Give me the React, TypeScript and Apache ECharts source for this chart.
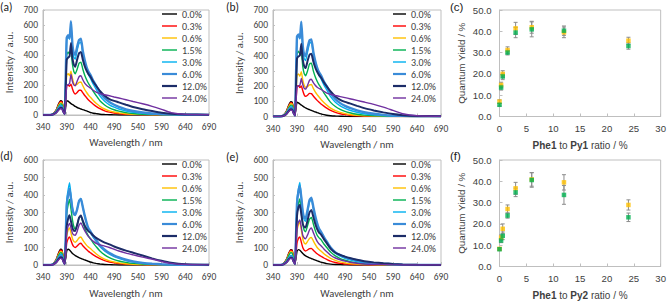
import React, { useEffect, useRef } from "react";
import * as echarts from "echarts";

// Emission wavelengths (nm) shared by all spectra
const wavelengths = [
  340, 355, 362, 368, 373, 377, 380, 383, 386, 388,
  390, 393, 396, 399, 402, 405, 408, 412, 416, 420,
  424, 428, 432, 436, 440, 446, 452, 460, 470, 480,
  490, 500, 515, 530, 550, 570, 590, 610, 640, 690,
];

const dopingLabels = ["0.0%", "0.3%", "0.6%", "1.5%", "3.0%", "6.0%", "12.0%", "24.0%"];
const lineColors = ["#000000", "#ff0000", "#ffc000", "#00b050", "#00b0f0", "#3a8bd8", "#1c2c68", "#7030a0"];
const lineWidths = [1.4, 1.4, 1.4, 1.4, 1.4, 2.4, 2, 1.4];

// (a) Phe1 / Py1
const intensityA = [
  [0, 0, 10, 35, 75, 96, 92, 44, 12, 55, 95, 92, 84, 76, 70, 64, 57, 50, 45, 40, 36, 31, 27, 22, 17, 12, 9, 5, 3, 2, 1, 0, 0, 0, 0, 0, 0, 0, 0, 0],
  [0, 0, 9, 32, 70, 90, 86, 41, 11, 100, 195, 200, 192, 205, 175, 150, 140, 150, 165, 165, 148, 130, 115, 100, 88, 72, 58, 42, 28, 19, 13, 9, 5, 3, 2, 1, 0, 0, 0, 0],
  [0, 0, 8, 30, 64, 82, 79, 38, 10, 140, 265, 275, 262, 292, 245, 210, 200, 205, 218, 220, 195, 170, 150, 132, 118, 96, 78, 58, 40, 28, 20, 14, 8, 5, 3, 2, 1, 0, 0, 0],
  [0, 0, 7, 27, 58, 74, 71, 34, 9, 200, 400, 420, 405, 432, 340, 290, 275, 305, 345, 352, 305, 265, 235, 210, 190, 158, 130, 95, 67, 48, 35, 26, 16, 10, 5, 3, 2, 1, 0, 0],
  [0, 0, 6, 23, 50, 64, 61, 29, 8, 260, 505, 522, 505, 605, 450, 385, 372, 430, 478, 485, 405, 345, 300, 268, 245, 205, 172, 128, 92, 68, 52, 40, 27, 18, 11, 6, 3, 2, 1, 0],
  [0, 0, 6, 20, 44, 56, 54, 26, 7, 270, 515, 532, 512, 625, 470, 410, 402, 455, 500, 508, 425, 365, 318, 288, 268, 228, 195, 150, 112, 86, 68, 54, 38, 27, 17, 10, 6, 4, 2, 1],
  [0, 0, 5, 17, 37, 48, 46, 22, 6, 190, 370, 382, 392, 480, 380, 335, 322, 370, 412, 420, 368, 325, 295, 272, 255, 222, 195, 160, 128, 106, 94, 84, 68, 53, 38, 26, 15, 9, 4, 2],
  [0, 0, 4, 15, 33, 42, 40, 19, 5, 100, 195, 202, 210, 272, 225, 200, 195, 225, 255, 262, 235, 212, 198, 188, 180, 165, 152, 142, 135, 128, 120, 113, 102, 90, 75, 58, 38, 16, 4, 2],
];

// (b) Phe1 / Py1, second film
const intensityB = [
  [0, 0, 10, 36, 76, 97, 93, 45, 12, 55, 94, 90, 82, 75, 68, 62, 56, 50, 45, 40, 35, 30, 26, 21, 17, 12, 8, 5, 3, 2, 1, 0, 0, 0, 0, 0, 0, 0, 0, 0],
  [0, 0, 9, 33, 71, 91, 87, 42, 11, 100, 198, 202, 190, 200, 170, 142, 132, 140, 152, 150, 135, 120, 106, 94, 82, 68, 55, 40, 27, 18, 12, 8, 5, 3, 2, 1, 0, 0, 0, 0],
  [0, 0, 8, 30, 65, 84, 80, 38, 10, 140, 270, 280, 265, 295, 240, 205, 192, 196, 208, 210, 185, 162, 144, 128, 112, 92, 75, 55, 38, 27, 19, 13, 8, 5, 3, 2, 1, 0, 0, 0],
  [0, 0, 7, 27, 58, 75, 72, 34, 9, 205, 410, 430, 410, 428, 330, 282, 268, 300, 345, 350, 300, 262, 232, 208, 188, 156, 128, 93, 66, 47, 34, 25, 15, 9, 5, 3, 2, 1, 0, 0],
  [0, 0, 6, 23, 50, 65, 62, 30, 8, 265, 520, 535, 510, 600, 445, 380, 368, 425, 478, 490, 405, 345, 300, 270, 248, 208, 175, 130, 94, 70, 53, 41, 28, 18, 11, 6, 3, 2, 1, 0],
  [0, 0, 6, 20, 44, 57, 55, 26, 7, 270, 525, 540, 515, 623, 465, 405, 398, 452, 500, 507, 425, 365, 320, 290, 270, 230, 198, 152, 114, 88, 70, 56, 40, 28, 18, 11, 6, 4, 2, 1],
  [0, 0, 5, 17, 37, 48, 46, 22, 6, 200, 380, 395, 400, 478, 375, 330, 318, 365, 405, 412, 362, 322, 294, 272, 256, 224, 198, 165, 132, 110, 96, 86, 70, 55, 40, 27, 16, 9, 4, 2],
  [0, 0, 4, 15, 33, 42, 40, 19, 5, 100, 195, 200, 205, 250, 210, 185, 180, 205, 238, 245, 222, 205, 192, 184, 178, 165, 154, 146, 138, 131, 124, 117, 106, 95, 80, 62, 40, 18, 5, 2],
];

// (d) Phe1 / Py2
const intensityD = [
  [0, 0, 9, 33, 70, 90, 86, 41, 11, 40, 80, 90, 86, 76, 66, 60, 54, 48, 42, 38, 33, 29, 25, 21, 17, 12, 9, 6, 3, 2, 1, 0, 0, 0, 0, 0, 0, 0, 0, 0],
  [0, 0, 9, 31, 66, 85, 82, 39, 10, 60, 125, 150, 160, 140, 118, 105, 100, 108, 120, 124, 110, 98, 88, 78, 70, 58, 48, 36, 25, 17, 12, 8, 5, 3, 2, 1, 0, 0, 0, 0],
  [0, 0, 8, 28, 61, 78, 75, 36, 9, 80, 165, 200, 212, 182, 152, 135, 130, 140, 155, 160, 142, 126, 112, 102, 94, 78, 64, 48, 34, 24, 17, 12, 7, 4, 2, 1, 0, 0, 0, 0],
  [0, 0, 7, 25, 55, 70, 67, 32, 8, 140, 290, 345, 375, 320, 260, 220, 205, 230, 270, 280, 245, 210, 185, 165, 150, 125, 105, 80, 58, 42, 31, 23, 15, 9, 5, 3, 1, 0, 0, 0],
  [0, 0, 6, 22, 47, 60, 58, 28, 7, 180, 370, 430, 470, 400, 330, 295, 285, 320, 368, 380, 330, 280, 238, 205, 185, 158, 135, 105, 80, 62, 48, 38, 26, 17, 10, 6, 3, 1, 0, 0],
  [0, 0, 5, 19, 41, 52, 50, 24, 6, 170, 340, 400, 435, 380, 320, 292, 286, 318, 365, 378, 330, 282, 240, 208, 192, 165, 142, 112, 87, 68, 54, 43, 30, 20, 12, 7, 4, 2, 1, 0],
  [0, 0, 4, 16, 35, 45, 43, 21, 5, 110, 220, 265, 285, 250, 212, 196, 195, 228, 270, 283, 252, 225, 206, 192, 185, 168, 155, 142, 128, 118, 106, 96, 82, 70, 54, 38, 24, 13, 5, 2],
  [0, 0, 3, 14, 30, 38, 36, 17, 4, 90, 185, 222, 238, 212, 182, 172, 170, 192, 228, 240, 218, 196, 178, 162, 150, 135, 124, 115, 108, 100, 90, 80, 68, 58, 45, 34, 20, 9, 3, 1],
];

// (e) Phe1 / Py2, second film
const intensityE = [
  [0, 0, 9, 32, 68, 88, 85, 40, 11, 40, 78, 88, 84, 75, 66, 58, 52, 46, 41, 37, 32, 28, 24, 20, 16, 12, 8, 5, 3, 2, 1, 0, 0, 0, 0, 0, 0, 0, 0, 0],
  [0, 0, 9, 30, 66, 84, 81, 39, 10, 60, 125, 152, 160, 130, 100, 85, 80, 86, 94, 95, 84, 74, 64, 56, 50, 40, 32, 22, 14, 9, 6, 4, 2, 1, 0, 0, 0, 0, 0, 0],
  [0, 0, 8, 28, 61, 78, 75, 36, 9, 90, 190, 232, 245, 200, 150, 126, 120, 135, 152, 158, 138, 118, 100, 88, 80, 64, 52, 38, 26, 18, 12, 8, 5, 3, 1, 0, 0, 0, 0, 0],
  [0, 0, 7, 25, 55, 70, 67, 32, 8, 140, 290, 350, 378, 310, 235, 198, 190, 225, 262, 272, 235, 198, 170, 155, 145, 120, 100, 74, 52, 37, 27, 19, 12, 7, 4, 2, 1, 0, 0, 0],
  [0, 0, 6, 20, 43, 55, 53, 25, 7, 180, 370, 435, 472, 390, 300, 258, 250, 300, 360, 375, 320, 268, 228, 198, 180, 150, 125, 94, 68, 50, 38, 29, 19, 12, 7, 4, 2, 1, 0, 0],
  [0, 0, 5, 17, 37, 48, 46, 22, 6, 170, 350, 420, 450, 385, 305, 270, 265, 315, 370, 385, 332, 280, 238, 207, 190, 160, 134, 100, 72, 56, 45, 36, 26, 18, 11, 7, 4, 2, 0, 0],
  [0, 0, 4, 15, 33, 42, 40, 19, 5, 140, 280, 330, 345, 290, 235, 218, 215, 255, 300, 315, 275, 236, 205, 185, 175, 148, 125, 94, 70, 58, 48, 40, 30, 22, 15, 10, 6, 3, 1, 0],
  [0, 0, 4, 14, 30, 38, 36, 17, 4, 110, 210, 245, 257, 215, 170, 154, 150, 172, 200, 212, 185, 158, 135, 120, 110, 92, 76, 56, 40, 30, 22, 16, 10, 6, 3, 2, 1, 0, 0, 0],
];

// Quantum yields (%) against the Phe1 doping ratio (%)
const ratios = [0, 0.3, 0.6, 1.5, 3, 6, 12, 24];
const qyPy1Orange = [7.0, 14.8, 20.0, 31.2, 41.4, 41.9, 39.5, 35.6];
const errPy1Orange = [0.8, 1.3, 1.5, 1.5, 2.8, 2.8, 2.5, 1.6];
const qyPy1Green = [5.5, 13.6, 18.8, 30.0, 39.4, 40.9, 40.3, 33.1];
const errPy1Green = [0.6, 1.2, 1.5, 1.1, 2.4, 3.5, 2.2, 1.5];
const qyPy2Orange = [8.3, 13.6, 17.7, 27.0, 36.7, 40.9, 39.5, 28.9];
const errPy2Orange = [0.5, 1.2, 2.3, 1.9, 2.8, 3.2, 3.6, 2.4];
const qyPy2Green = [8.1, 12.2, 14.4, 23.9, 34.8, 40.6, 33.6, 23.1];
const errPy2Green = [0.5, 1.0, 1.8, 1.2, 2.0, 3.4, 4.4, 2.0];

const SPEC_FONT = "Carlito, Lato, sans-serif";
const QY_FONT = "'Liberation Sans', Arial, sans-serif";
const FRAME = "#bfbfbf";
const TEXT = "#404040";

// Legend swatches: a bar centred in a 16x8 box (the two moves pin the box)
const THIN_SWATCH = "path://M0,0M16,8M0,3.3H16V4.7H0Z";
const THICK_SWATCH = "path://M0,0M16,8M0,2.9H16V5.1H0Z";

type SpecPanel = {
  rows: number[][];
  grid: { left: number; top: number; width: number; height: number };
  yMax: number;
  legendLeft: number;
  legendTop: number;
  legendIconWidth: number;
  nameGapX: number;
  nameGapY: number;
};

const specPanels: SpecPanel[] = [
  { rows: intensityA, grid: { left: 43, top: 10, width: 166, height: 105 }, yMax: 700, legendLeft: 162, legendTop: 9, legendIconWidth: 15, nameGapX: 22, nameGapY: 28 },
  { rows: intensityB, grid: { left: 273, top: 10, width: 168, height: 106.5 }, yMax: 700, legendLeft: 393, legendTop: 9, legendIconWidth: 13, nameGapX: 22, nameGapY: 28 },
  { rows: intensityD, grid: { left: 43, top: 160, width: 166, height: 105 }, yMax: 600, legendLeft: 162, legendTop: 159, legendIconWidth: 15, nameGapX: 23, nameGapY: 28 },
  { rows: intensityE, grid: { left: 273, top: 160, width: 168, height: 105 }, yMax: 600, legendLeft: 393, legendTop: 159, legendIconWidth: 13, nameGapX: 23, nameGapY: 28 },
];

type QyPanel = {
  grid: { left: number; top: number; width: number; height: number };
  acceptor: string;
  orange: number[];
  orangeErr: number[];
  green: number[];
  greenErr: number[];
};

const qyPanels: QyPanel[] = [
  { grid: { left: 499.5, top: 10, width: 163.5, height: 106.5 }, acceptor: "Py1", orange: qyPy1Orange, orangeErr: errPy1Orange, green: qyPy1Green, greenErr: errPy1Green },
  { grid: { left: 499.5, top: 160, width: 163.5, height: 106.5 }, acceptor: "Py2", orange: qyPy2Orange, orangeErr: errPy2Orange, green: qyPy2Green, greenErr: errPy2Green },
];

const panelLetters = [
  { text: "(a)", x: 0, y: 1, font: SPEC_FONT },
  { text: "(b)", x: 226, y: 1, font: SPEC_FONT },
  { text: "(c)", x: 450, y: 1, font: QY_FONT },
  { text: "(d)", x: 0, y: 150, font: SPEC_FONT },
  { text: "(e)", x: 226, y: 151, font: SPEC_FONT },
  { text: "(f)", x: 450, y: 150, font: QY_FONT },
];

function buildOption() {
  const grids: any[] = [];
  const xAxes: any[] = [];
  const yAxes: any[] = [];
  const series: any[] = [];
  const legends: any[] = [];

  specPanels.forEach((p) => {
    const gi = grids.length;
    grids.push({ ...p.grid, show: true, borderColor: FRAME, borderWidth: 1, backgroundColor: "transparent" });
    xAxes.push({
      gridIndex: gi,
      type: "value",
      min: 0,
      max: 350,
      interval: 50,
      name: "Wavelength / nm",
      nameLocation: "middle",
      nameGap: p.nameGapX,
      nameTextStyle: { fontFamily: SPEC_FONT, fontSize: 10.5, color: TEXT },
      axisLine: { show: true, lineStyle: { color: FRAME, width: 1 } },
      axisTick: { show: true, inside: true, length: 3, lineStyle: { color: FRAME } },
      splitLine: { show: false },
      axisLabel: {
        margin: 7,
        fontFamily: SPEC_FONT,
        fontSize: 9.5,
        color: TEXT,
        formatter: (v: number) => String(v + 340),
      },
    });
    yAxes.push({
      gridIndex: gi,
      type: "value",
      min: 0,
      max: p.yMax,
      interval: 100,
      name: "Intensity / a.u.",
      nameLocation: "middle",
      nameGap: p.nameGapY,
      nameRotate: 90,
      nameTextStyle: { fontFamily: SPEC_FONT, fontSize: 10.5, color: TEXT },
      axisLine: { show: true, lineStyle: { color: FRAME, width: 1 } },
      axisTick: { show: true, inside: true, length: 2, lineStyle: { color: FRAME } },
      splitLine: { show: false },
      axisLabel: { margin: 5, fontFamily: SPEC_FONT, fontSize: 9.5, color: TEXT },
    });
    p.rows.forEach((row, i) => {
      series.push({
        type: "line",
        name: dopingLabels[i],
        xAxisIndex: gi,
        yAxisIndex: gi,
        data: wavelengths.map((w, k) => [w - 340, row[k]]),
        symbol: "none",
        smooth: 0.15,
        silent: true,
        lineStyle: { color: lineColors[i], width: lineWidths[i] },
        itemStyle: { color: lineColors[i] },
      });
    });
    legends.push({
      orient: "vertical",
      left: p.legendLeft,
      top: p.legendTop,
      padding: 0,
      itemGap: 2,
      itemWidth: p.legendIconWidth,
      itemHeight: 8,
      symbolKeepAspect: false,
      selectedMode: false,
      data: dopingLabels.map((name, i) => ({
        name,
        icon: lineWidths[i] > 1.5 ? THICK_SWATCH : THIN_SWATCH,
      })),
      textStyle: { fontFamily: SPEC_FONT, fontSize: 10, color: TEXT },
    });
  });

  qyPanels.forEach((p) => {
    const gi = grids.length;
    grids.push({ ...p.grid, show: true, borderColor: FRAME, borderWidth: 1, backgroundColor: "transparent" });
    xAxes.push({
      gridIndex: gi,
      type: "value",
      min: 0,
      max: 30,
      interval: 5,
      name: `{b|Phe1} to {b|${p.acceptor}} ratio / %`,
      nameLocation: "middle",
      nameGap: 24,
      nameTextStyle: {
        fontFamily: QY_FONT,
        fontSize: 10,
        color: TEXT,
        rich: { b: { fontFamily: QY_FONT, fontSize: 10, fontWeight: "bold", color: TEXT } },
      },
      axisLine: { show: true, lineStyle: { color: FRAME, width: 1 } },
      axisTick: { show: true, inside: true, length: 3, lineStyle: { color: FRAME } },
      splitLine: { show: false },
      axisLabel: { margin: 7, fontFamily: QY_FONT, fontSize: 9.6, color: TEXT },
    });
    yAxes.push({
      gridIndex: gi,
      type: "value",
      min: 0,
      max: 50,
      interval: 10,
      name: "Quantum Yield / %",
      nameLocation: "middle",
      nameGap: 33,
      nameRotate: 90,
      nameTextStyle: { fontFamily: QY_FONT, fontSize: 9.8, color: TEXT },
      axisLine: { show: true, lineStyle: { color: FRAME, width: 1 } },
      axisTick: { show: true, inside: true, length: 3, lineStyle: { color: FRAME } },
      splitLine: { show: false },
      axisLabel: {
        margin: 8,
        fontFamily: QY_FONT,
        fontSize: 9.6,
        color: TEXT,
        formatter: (v: number) => v.toFixed(1),
      },
    });

    const sets = [
      { values: p.orange, errs: p.orangeErr, color: "#ffc000" },
      { values: p.green, errs: p.greenErr, color: "#00b050" },
    ];
    sets.forEach((s) => {
      series.push({
        type: "custom",
        xAxisIndex: gi,
        yAxisIndex: gi,
        silent: true,
        z: 1,
        data: ratios.map((x, k) => [x, s.values[k] - s.errs[k], s.values[k] + s.errs[k]]),
        encode: { x: 0, y: [1, 2] },
        renderItem: (params: any, api: any) => {
          const top = api.coord([api.value(0), api.value(2)]);
          const bot = api.coord([api.value(0), api.value(1)]);
          const cap = 2;
          const style = { stroke: "#8c8c8c", lineWidth: 1 };
          return {
            type: "group",
            children: [
              { type: "line", shape: { x1: top[0], y1: top[1], x2: bot[0], y2: bot[1] }, style },
              { type: "line", shape: { x1: top[0] - cap, y1: top[1], x2: top[0] + cap, y2: top[1] }, style },
              { type: "line", shape: { x1: bot[0] - cap, y1: bot[1], x2: bot[0] + cap, y2: bot[1] }, style },
            ],
          };
        },
      });
    });
    sets.forEach((s) => {
      series.push({
        type: "scatter",
        xAxisIndex: gi,
        yAxisIndex: gi,
        silent: true,
        z: 3,
        symbol: "rect",
        symbolSize: 4.5,
        itemStyle: { color: s.color },
        data: ratios.map((x, k) => [x, s.values[k]]),
      });
    });
  });

  return {
    animation: false,
    backgroundColor: "#ffffff",
    grid: grids,
    xAxis: xAxes,
    yAxis: yAxes,
    legend: legends,
    series,
    graphic: panelLetters.map((l) => ({
      type: "text",
      left: l.x,
      top: l.y,
      style: { text: l.text, font: `11.5px ${l.font}`, fill: "#202020" },
    })),
  };
}

export default function App() {
  const ref = useRef<HTMLDivElement>(null);
  useEffect(() => {
    if (!ref.current) return;
    const chart = echarts.init(ref.current, undefined, { renderer: "svg" });
    chart.setOption(buildOption());
    return () => chart.dispose();
  }, []);
  return (
    <div
      ref={ref}
      style={{ position: "fixed", left: 0, top: 0, width: 669, height: 303, background: "#fff" }}
    />
  );
}
